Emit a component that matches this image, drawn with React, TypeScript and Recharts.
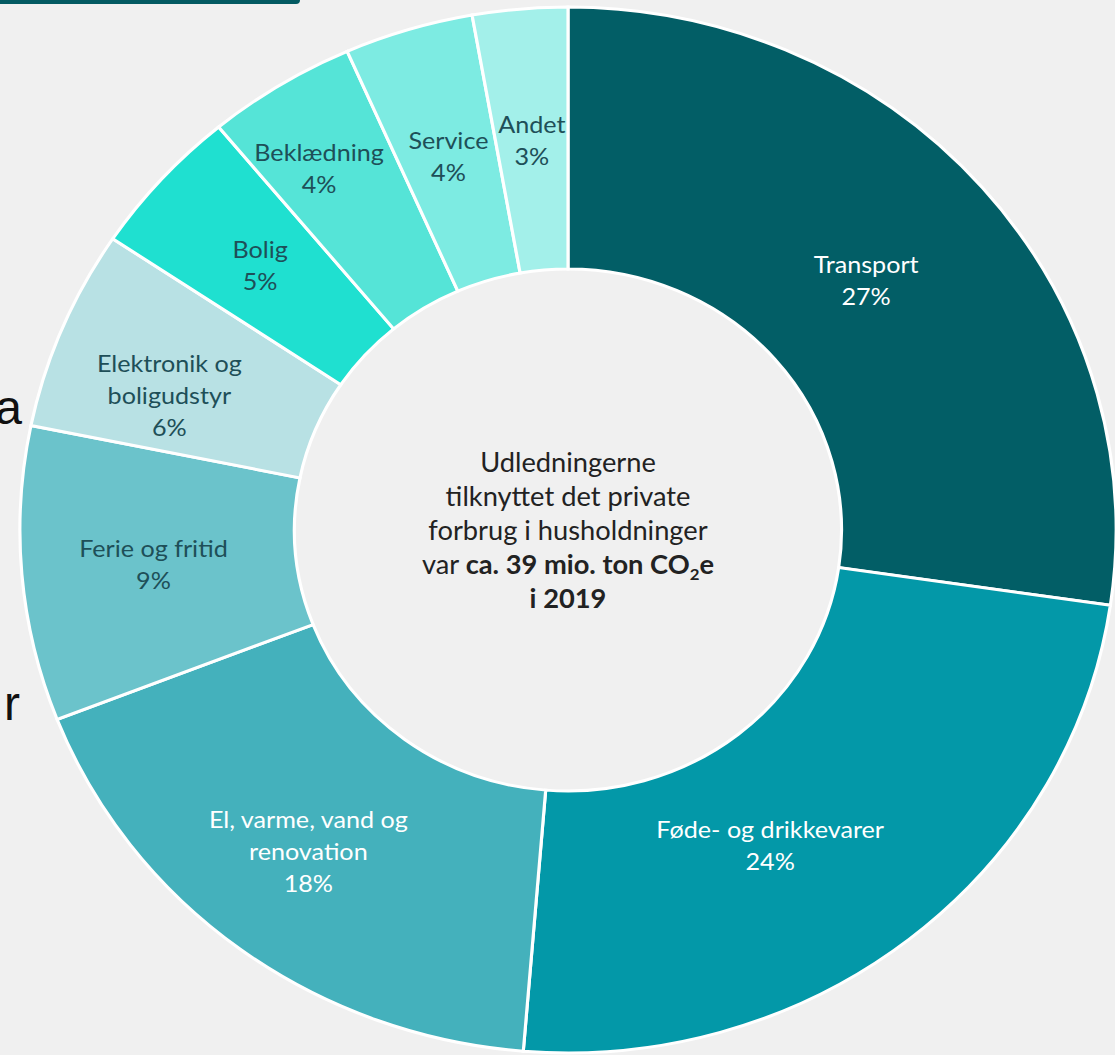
import { PieChart, Pie, Cell } from 'recharts';

// Private consumption emissions by category (% share), clockwise from 12 o'clock
const categories = [
  'Transport',
  'Føde- og drikkevarer',
  'El, varme, vand og renovation',
  'Ferie og fritid',
  'Elektronik og boligudstyr',
  'Bolig',
  'Beklædning',
  'Service',
  'Andet',
];
const shares = [27.3, 24.0, 17.8, 9.1, 6.2, 4.6, 4.4, 3.8, 2.8];
const labelLines = [
  ['Transport'],
  ['Føde- og drikkevarer'],
  ['El, varme, vand og', 'renovation'],
  ['Ferie og fritid'],
  ['Elektronik og', 'boligudstyr'],
  ['Bolig'],
  ['Beklædning'],
  ['Service'],
  ['Andet'],
];
const colors = ['#025e66', '#0398a8', '#44b1bc', '#6bc3cb', '#b8e1e4', '#1fe0d0', '#55e4d7', '#7debe2', '#a3f0ea'];
const textColors = ['#ffffff', '#ffffff', '#ffffff', '#1e4f58', '#1e4f58', '#1e4f58', '#1e4f58', '#1e4f58', '#1e4f58'];

const data = categories.map((name, i) => ({ name, value: shares[i] }));

const RAD = Math.PI / 180;
const FONT = 'Lato, "Open Sans", sans-serif';
// the source image is slightly stretched horizontally
const STRETCH = 1.048;
const CX = 568;
const CY = 530;

// hand-dragged label offsets in the original (radius px, degrees ccw)
const LABEL_NUDGE: Record<string, { dr: number; da: number }> = {
  'Transport': { dr: -13, da: 0.5 },
  'Føde- og drikkevarer': { dr: -23, da: -7 },
  'El, varme, vand og renovation': { dr: 13, da: -1 },
  'Ferie og fritid': { dr: 5, da: 0 },
  'Elektronik og boligudstyr': { dr: 12, da: 3 },
  'Bolig': { dr: 4, da: 0 },
  'Beklædning': { dr: 42, da: 1.5 },
};

const renderLabel = (props: any) => {
  const { cx, cy, midAngle, innerRadius, outerRadius, index } = props;
  const nudge = LABEL_NUDGE[categories[index]] || { dr: 0, da: 0 };
  const r = (innerRadius + outerRadius) / 2 + nudge.dr;
  const a = (midAngle + nudge.da) * RAD;
  const x = cx + r * Math.cos(-a);
  const y = cy + r * Math.sin(-a);
  const lines = [...labelLines[index], `${Math.round(shares[index])}%`];
  const lh = 32;
  const y0 = y - ((lines.length - 1) * lh) / 2;
  return (
    <text
      x={x}
      y={y0}
      textAnchor="middle"
      dominantBaseline="central"
      fill={textColors[index]}
      fontSize={24}
      fontFamily={FONT}
    >
      {lines.map((l, i) => (
        <tspan key={i} x={x} y={y0 + i * lh}>{l}</tspan>
      ))}
    </text>
  );
};

export default function App() {
  return (
    <div
      style={{
        position: 'absolute',
        left: 0,
        top: 0,
        width: 1115,
        height: 1055,
        overflow: 'hidden',
        background: '#f0f0f0',
      }}
    >
      {/* banner corner peeking in at the top */}
      <div
        style={{
          position: 'absolute',
          left: 0,
          top: 0,
          width: 300,
          height: 4,
          background: '#035a62',
          borderBottomRightRadius: 20,
        }}
      />
      {/* cut-off text from the left column */}
      <div style={{ position: 'absolute', left: -20, top: 380, width: 42, textAlign: 'right', fontFamily: '"Liberation Sans", Arial, sans-serif', fontSize: 48, color: '#111' }}>a</div>
      <div style={{ position: 'absolute', left: -20, top: 676, width: 40, textAlign: 'right', fontFamily: '"Liberation Sans", Arial, sans-serif', fontSize: 48, color: '#111' }}>r</div>

      <div
        style={{
          position: 'absolute',
          left: 0,
          top: 0,
          width: 1136,
          height: 1060,
          transform: `scaleX(${STRETCH})`,
          transformOrigin: `${CX}px ${CY}px`,
        }}
      >
        <PieChart width={1136} height={1060} margin={{ top: 0, right: 0, bottom: 0, left: 0 }}>
          <Pie
            data={data}
            dataKey="value"
            nameKey="name"
            cx={CX}
            cy={CY}
            innerRadius={261}
            outerRadius={523}
            startAngle={90}
            endAngle={-270}
            stroke="#ffffff"
            strokeWidth={3}
            label={renderLabel}
            labelLine={false}
            isAnimationActive={false}
          >
            {data.map((entry, index) => (
              <Cell key={`cell-${index}`} fill={colors[index]} />
            ))}
          </Pie>
        </PieChart>

        {/* Inner text */}
        <div
          style={{
            position: 'absolute',
            left: CX - 200,
            top: CY - 90,
            width: 400,
            height: 180,
            display: 'flex',
            flexDirection: 'column',
            alignItems: 'center',
            justifyContent: 'center',
            fontFamily: FONT,
            fontSize: 26,
            lineHeight: '34px',
            color: '#222',
            textAlign: 'center',
            pointerEvents: 'none',
          }}
        >
          <div>Udledningerne</div>
          <div>tilknyttet det private</div>
          <div>forbrug i husholdninger</div>
          <div>
            var <b>ca. 39 mio. ton CO<sub style={{ fontSize: 16, lineHeight: 0 }}>2</sub>e</b>
          </div>
          <div><b>i 2019</b></div>
        </div>
      </div>
    </div>
  );
}
